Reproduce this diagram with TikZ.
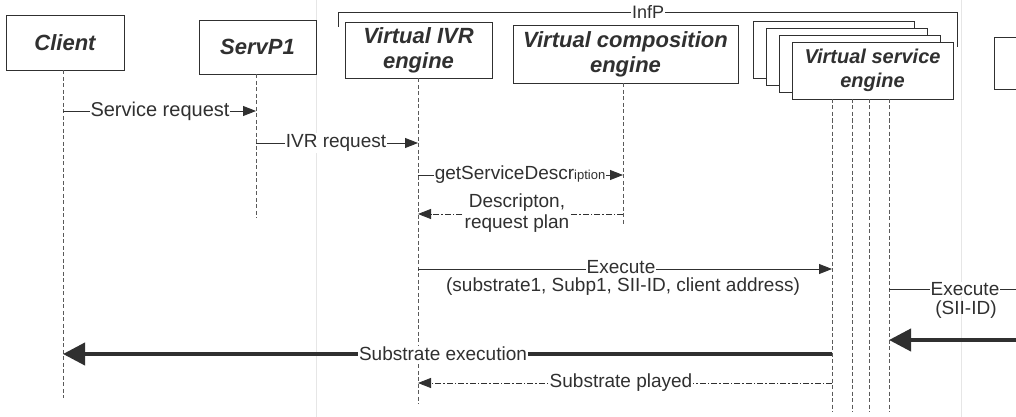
\documentclass[tikz,border=0pt]{standalone}
\usepackage{fontspec}
\setmainfont{Liberation Sans}
\usetikzlibrary{arrows.meta,calc}
\definecolor{ink}{HTML}{303030}
\definecolor{lifegray}{HTML}{5A5A5A}
\definecolor{seam}{HTML}{E6E6E6}

\begin{document}
\begin{tikzpicture}[x=1pt,y=-1pt,
  actor/.style={draw=ink, line width=0.9pt, fill=white, align=center,
    font=\fontsize{22}{25}\selectfont\bfseries\itshape, text=ink, inner sep=0pt},
  life/.style={draw=lifegray, line width=0.7pt, dash pattern=on 4pt off 2.5pt},
  msg/.style={draw=ink, line width=0.9pt},
  reply/.style={draw=ink, line width=0.8pt, dash pattern=on 6pt off 2pt on 1.5pt off 2pt},
  tip/.style={-{Triangle[length=13pt,width=10pt]}},
  heavy/.style={draw=ink, line width=4pt, -{Triangle[length=22pt,width=22pt]}},
  lbl/.style={fill=white, inner sep=1pt, text=ink, font=\fontsize{19}{20}\selectfont},
  toplbl/.style={fill=white, inner xsep=1pt, inner ysep=0pt, text=ink, font=\fontsize{19}{20}\selectfont},
  sublbl/.style={inner sep=0pt, text=ink, font=\fontsize{19}{20}\selectfont},
]
\useasboundingbox[fill=white] (0,0) rectangle (1016,417);

% faint page seams
\draw[seam, line width=0.8pt] (316,0) -- (316,417);
\draw[seam, line width=0.8pt] (961,0) -- (961,417);

% InfP grouping bracket
\draw[ink, line width=0.8pt] (338,27) -- (338,12) -- (957,12) -- (957,47);
\node[lbl, font=\fontsize{18}{20}\selectfont] (infp) at (648,12) {InfP};

% participants
\node[actor, minimum width=118pt, minimum height=55pt] (client) at (65,42.5) {Client};
\node[actor, minimum width=117pt, minimum height=54pt] (servp) at (257.5,47) {ServP1};
\node[actor, minimum width=147pt, minimum height=56pt] (ivr) at (418.5,50) {Virtual IVR\\engine};
\node[actor, minimum width=225pt, minimum height=58pt] (comp) at (625.5,54) {Virtual composition\\engine};

% stacked virtual service engines
\foreach \i/\cx/\cy in {1/833.5/49.5, 2/846.5/56.5, 3/859.5/63.5}
  \node[actor, minimum width=161pt, minimum height=57pt] (vse\i) at (\cx,\cy) {};
\node[actor, minimum width=161pt, minimum height=57pt,
  font=\fontsize{20}{24}\selectfont\bfseries\itshape] (vse) at (872.5,70.5) {Virtual service\\engine};

% partially visible participant at the right edge
\draw[ink, line width=0.9pt] (1016,37) -- (994,37) -- (994,89) -- (1016,89);

% lifeline ends
\coordinate (clientEnd) at (63,398);
\coordinate (servpEnd) at (256,218);
\coordinate (ivrEnd) at (418,404);
\coordinate (compEnd) at (623,226);
\coordinate (vA) at (832,99);  \coordinate (vAend) at (832,412);
\coordinate (vB) at (852,99);  \coordinate (vBend) at (852,412);
\coordinate (vC) at (869,99);  \coordinate (vCend) at (869,412);
\coordinate (vD) at (889,99);  \coordinate (vDend) at (889,412);
\coordinate (edgeR) at (1016,0);

% lifelines
\draw[life] (client.south -| clientEnd) -- (clientEnd);
\draw[life] (servp.south -| servpEnd) -- (servpEnd);
\draw[life] (ivr.south -| ivrEnd) -- (ivrEnd);
\draw[life] (comp.south -| compEnd) -- (compEnd);
\foreach \l in {vA,vB,vC,vD} \draw[life] (\l) -- (\l end);

% messages
\draw[msg, tip] (clientEnd |- 0,111) -- (servpEnd |- 0,111);
\node[lbl, font=\fontsize{20}{22}\selectfont] (m1) at (160,111) {Service request};

\draw[msg, tip] (servpEnd |- 0,143) -- (ivrEnd |- 0,143);
\node[lbl] (m2) at (336,143) {IVR request};

\draw[msg, tip] (ivrEnd |- 0,175) -- (compEnd |- 0,175);
\node[lbl] (m3) at (520,175) {getServiceDescr{\fontsize{13}{13}\selectfont iption}};

\draw[reply, tip] (compEnd |- 0,214) -- (ivrEnd |- 0,214);
\node[lbl, align=center, font=\fontsize{19}{21}\selectfont] (m4) at (517,213) {Descripton,\\request plan};

\draw[msg, tip] (ivrEnd |- 0,269) -- (vA |- 0,269);
\node[toplbl] (m5) at (621,267) {Execute};
\node[sublbl] (m5b) at (623,287) {(substrate1, Subp1, SII-ID, client address)};

\draw[msg] (vD |- 0,289) -- (edgeR |- 0,289);
\node[toplbl] (m6) at (965,289) {Execute};
\node[sublbl] (m6b) at (966,310) {(SII-ID)};

\draw[heavy] (edgeR |- 0,340) -- (vD |- 0,340);

\draw[heavy] (vA |- 0,354) -- (clientEnd |- 0,354);
\node[lbl] (m7) at (443,354) {Substrate execution};

\draw[reply, tip] (vA |- 0,383) -- (ivrEnd |- 0,383);
\node[lbl] (m8) at (621,383) {Substrate played};
\end{tikzpicture}
\end{document}
